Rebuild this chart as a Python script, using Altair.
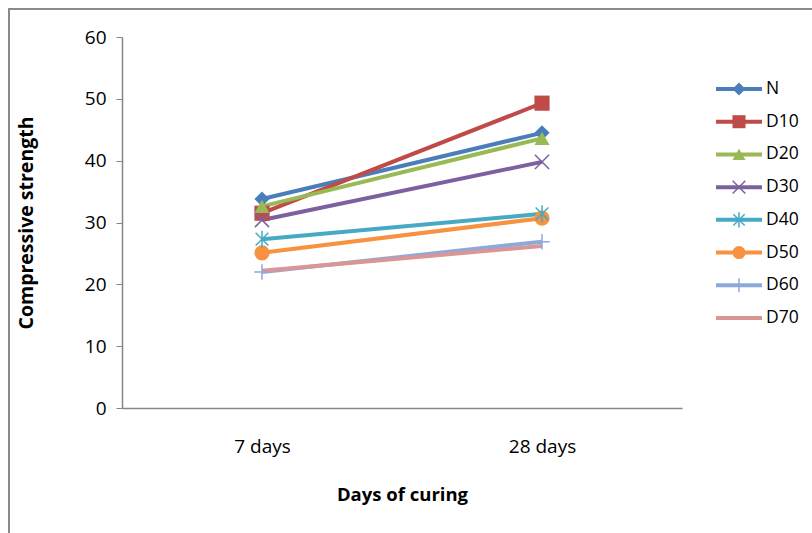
import altair as alt
import pandas as pd

# Compressive strength by mix and curing age
series = ["N", "D10", "D20", "D30", "D40", "D50", "D60", "D70"]
days = ["7 days", "28 days"]
strength_7 = [33.8, 31.5, 32.6, 30.4, 27.3, 25.1, 22.0, 22.2]
strength_28 = [44.5, 49.3, 43.6, 39.8, 31.4, 30.7, 26.9, 26.2]

colors = ["#4A7EBB", "#BE4B48", "#98B954", "#7D60A0",
          "#46AAC5", "#F69240", "#8DA9DB", "#D99694"]

X_PATH = "M-1,-1L1,1M-1,1L1,-1"
STAR_PATH = "M-0.9,-0.9L0.9,0.9M-0.9,0.9L0.9,-0.9M0,-1.2L0,1.2"
PLUS_PATH = "M0,-1.1L0,1.1M-1.1,0L1.1,0"
shapes = ["diamond", "square", "triangle-up", X_PATH,
          STAR_PATH, "circle", PLUS_PATH, "circle"]

filled_series = ["N", "D10", "D20", "D50"]
open_series = ["D30", "D40", "D60"]

rows = []
for s, a, b in zip(series, strength_7, strength_28):
    rows.append({"series": s, "day": days[0], "value": a})
    rows.append({"series": s, "day": days[1], "value": b})
df = pd.DataFrame(rows)
legend_df = pd.DataFrame({"series": series})

FONT = "Open Sans"

color_enc = alt.Color("series:N", scale=alt.Scale(domain=series, range=colors), legend=None)
shape_enc = alt.Shape("series:N", scale=alt.Scale(domain=series, range=shapes), legend=None)

x_enc = alt.X("day:N", sort=days,
              scale=alt.Scale(type="point", padding=0.5),
              axis=alt.Axis(title="Days of curing", labelAngle=0, ticks=False,
                            labelPadding=29, titlePadding=29,
                            domainColor="#868686", domainWidth=1.5,
                            labelFont=FONT, labelFontSize=19, labelColor="#000000",
                            titleFont=FONT, titleFontSize=18.5, titleFontWeight="bold",
                            titleColor="#000000"))
y_enc = alt.Y("value:Q", scale=alt.Scale(domain=[0, 60]),
              axis=alt.Axis(title="Compressive strength", values=[0, 10, 20, 30, 40, 50, 60],
                            grid=False, tickSize=6, tickColor="#868686",
                            domainColor="#868686", domainWidth=1.5,
                            labelPadding=10, titlePadding=48,
                            labelFont=FONT, labelFontSize=19, labelColor="#000000",
                            titleFont=FONT, titleFontSize=19.5, titleFontWeight="bold",
                            titleColor="#000000"))

lines = alt.Chart(df).mark_line(strokeWidth=4).encode(
    x=x_enc, y=y_enc, color=color_enc, detail="series:N")

filled_pts = alt.Chart(df).transform_filter(
    alt.FieldOneOfPredicate(field="series", oneOf=filled_series)
).mark_point(filled=True, opacity=1, size=230, strokeWidth=1).encode(
    x=x_enc, y=y_enc, color=color_enc, shape=shape_enc)

open_pts = alt.Chart(df).transform_filter(
    alt.FieldOneOfPredicate(field="series", oneOf=open_series)
).mark_point(filled=False, opacity=1, size=200, strokeWidth=1.5).encode(
    x=x_enc, y=y_enc, color=color_enc, shape=shape_enc)

main = alt.layer(lines, filled_pts, open_pts)

# Legend drawn as marks on its own vertical point scale
leg_y = alt.Y("series:N", scale=alt.Scale(type="point", domain=series, range=[52, 281], padding=0),
              axis=None)
leg_lines = alt.Chart(legend_df).mark_rule(strokeWidth=4).encode(
    x=alt.value(594), x2=alt.value(640), y=leg_y, color=color_enc)
leg_filled = alt.Chart(legend_df).transform_filter(
    alt.FieldOneOfPredicate(field="series", oneOf=filled_series)
).mark_point(filled=True, opacity=1, size=170, strokeWidth=1).encode(
    x=alt.value(617), y=leg_y, color=color_enc, shape=shape_enc)
leg_open = alt.Chart(legend_df).transform_filter(
    alt.FieldOneOfPredicate(field="series", oneOf=open_series)
).mark_point(filled=False, opacity=1, size=160, strokeWidth=1.5).encode(
    x=alt.value(617), y=leg_y, color=color_enc, shape=shape_enc)
leg_text = alt.Chart(legend_df).mark_text(
    align="left", baseline="middle", font=FONT, fontSize=17.5, color="#000000"
).encode(x=alt.value(644), y=leg_y, text="series:N")
legend = alt.layer(leg_lines, leg_filled, leg_open, leg_text)

# Outer chart-area frame
frame = alt.Chart(pd.DataFrame({"k": [0]})).mark_rect(
    fillOpacity=0, stroke="#8a8a8a", strokeWidth=2
).encode(x=alt.value(-113), x2=alt.value(780), y=alt.value(-28), y2=alt.value(560))

chart = alt.layer(frame, main, legend).resolve_scale(y="independent").properties(
    width=560, height=371,
    padding={"left": 122, "top": 37, "right": 130, "bottom": 125},
    autosize=alt.AutoSizeParams(type="none"),
    background="#ffffff",
).configure_view(stroke="transparent")

chart.save("out.html", embed_options={"renderer": "svg", "actions": False})
